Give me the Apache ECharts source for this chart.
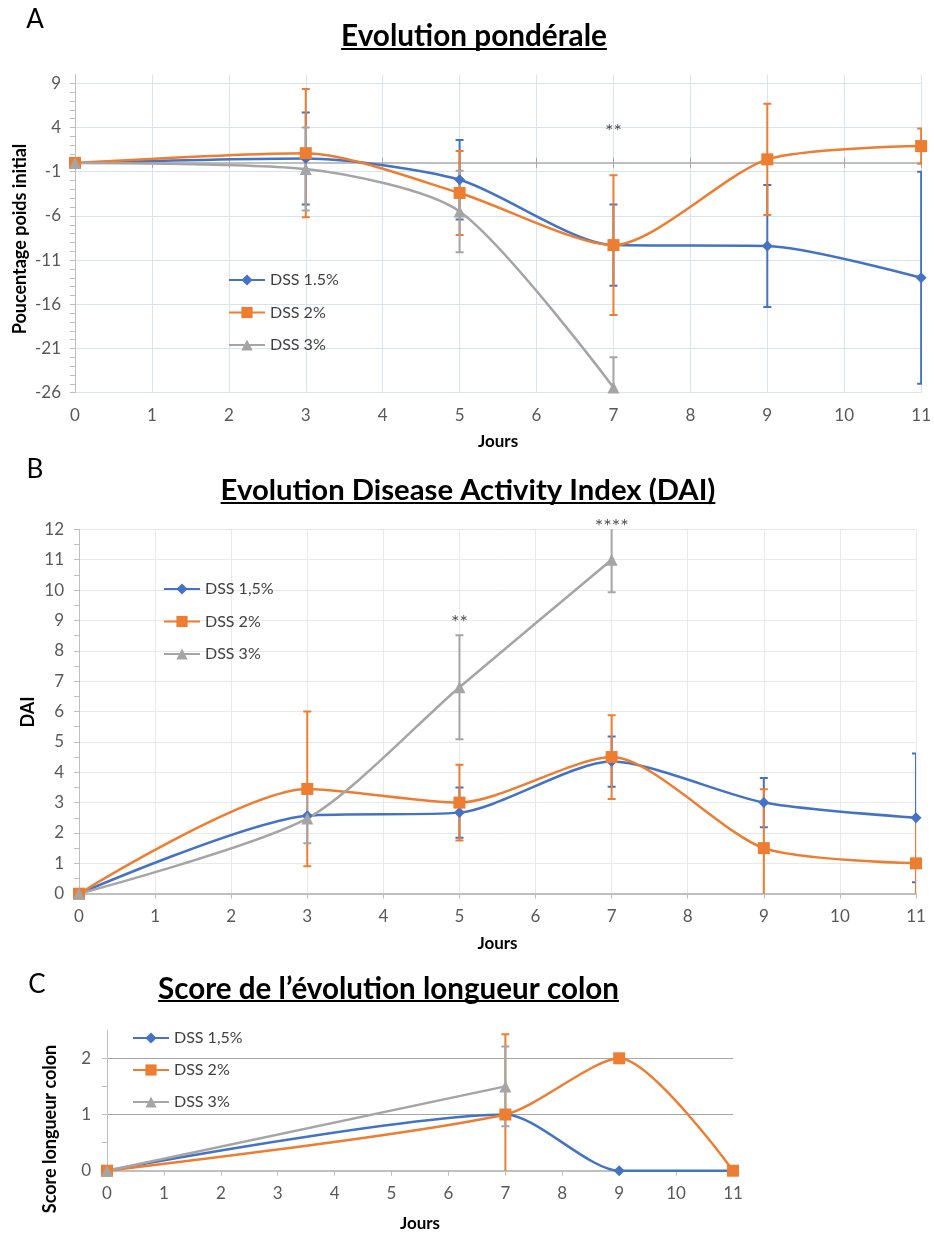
<!DOCTYPE html>
<html><head><meta charset="utf-8">
<script src="https://cdn.jsdelivr.net/npm/echarts@6/dist/echarts.min.js"></script>
<style>html,body{margin:0;padding:0;background:#fff}#c{width:934px;height:1234px}</style>
</head><body><div id="c"></div>
<script>
// ---------- DATA ----------
// Panel A : Evolution pondérale (% poids initial)
const daysA = [0, 3, 5, 7, 9, 11];
const daysA3 = [0, 3, 5, 7];
const weight15 = [0, 0.5, -1.9, -9.3, -9.4, -13.0];
const weight15Err = [null, 5.2, 4.5, 4.6, 6.9, 12.0];
const weight2 = [0, 1.1, -3.4, -9.3, 0.4, 1.9];
const weight2Err = [null, 7.25, 4.75, 7.9, 6.3, 2.0];
const weight3 = [0, -0.7, -5.5, -25.4];
const weight3Err = [null, 4.7, 4.6, 3.4];
const starsA = [[7, 4.1, '**']];
const namesA = ['DSS 1.5%', 'DSS 2%', 'DSS 3%'];

// Panel B : DAI
const daysB = [0, 3, 5, 7, 9, 11];
const daysB3 = [0, 3, 5, 7];
const dai15 = [0, 2.57, 2.67, 4.35, 3.0, 2.5];
const dai15Err = [null, null, 0.83, 0.83, 0.81, 2.12];
const dai2 = [0, 3.45, 3.0, 4.5, 1.5, 1.0];
const dai2Err = [null, 2.55, 1.25, 1.38, 1.94, 1.5];
const dai3 = [0, 2.48, 6.8, 11.0];
const dai3Err = [null, 0.82, 1.71, 1.07];
const starsB = [[5, 9.1, '**'], [7, 12.27, '****']];
const namesB = ['DSS 1,5%', 'DSS 2%', 'DSS 3%'];

// Panel C : Score longueur colon
const daysC = [0, 7, 9, 11];
const daysC3 = [0, 7];
const colon15 = [0, 1, 0, 0];
const colon15Err = [null, null, null, null];
const colon2 = [0, 1, 2, 0];
const colon2Err = [null, 1.43, null, null];
const colon3 = [0, 1.5];
const colon3Err = [null, 0.71];

const titles = ['Evolution pondérale', 'Evolution Disease Activity Index (DAI)', 'Score de l\u2019évolution longueur colon'];
const letters = ['A', 'B', 'C'];
const yNames = ['Poucentage poids initial', 'DAI', 'Score longueur colon'];
const xName = 'Jours';

// ---------- STYLE ----------
const FONT = 'Lato';
const BLUE = '#4472C4', ORANGE = '#ED7D31', GRAY = '#A5A5A5';
const TXT = '#595959';
const AXC = '#bfbfbf';
const SMOOTH = 0.25;

const chart = echarts.init(document.getElementById('c'), null, {renderer: 'canvas'});

function pairs(x, y) { return x.map((d, i) => [d, y[i]]); }
function errData(x, y, e) {
  const out = [];
  x.forEach((d, i) => { if (e[i] != null) out.push([d, y[i], e[i]]); });
  return out;
}
function lineSeries(name, x, y, color, symbol, size, gi, z) {
  return {
    type: 'line', name, xAxisIndex: gi.x, yAxisIndex: gi.y, data: pairs(x, y),
    smooth: SMOOTH, symbol, symbolSize: size, showSymbol: true,
    lineStyle: {color, width: 2.5}, itemStyle: {color}, z: z, clip: true
  };
}
function errSeries(id, x, y, e, color, gi, z) {
  return {
    type: 'custom', name: id, xAxisIndex: gi.x, yAxisIndex: gi.y, data: errData(x, y, e),
    encode: {x: 0, y: 1}, clip: true, z: z, silent: true,
    renderItem(params, api) {
      const cx = api.value(0), cy = api.value(1), ev = api.value(2);
      const t = api.coord([cx, cy + ev]), b = api.coord([cx, cy - ev]);
      const w = 4, st = {stroke: color, lineWidth: 2};
      return {type: 'group', children: [
        {type: 'line', shape: {x1: t[0], y1: t[1], x2: b[0], y2: b[1]}, style: st},
        {type: 'line', shape: {x1: t[0] - w, y1: t[1], x2: t[0] + w, y2: t[1]}, style: st},
        {type: 'line', shape: {x1: b[0] - w, y1: b[1], x2: b[0] + w, y2: b[1]}, style: st}
      ]};
    }
  };
}
function starSeries(data, gi) {
  return {
    type: 'scatter', xAxisIndex: gi.x, yAxisIndex: gi.y, data, clip: false, silent: true,
    symbol: 'circle', symbolSize: 1, itemStyle: {color: 'rgba(0,0,0,0)'},
    label: {show: true, position: 'inside', offset: [0, 5], formatter: p => p.value[2], color: '#262626', fontSize: 20, fontFamily: FONT},
    z: 10
  };
}
const lbl = (m) => ({fontSize: 17, color: TXT, fontFamily: FONT, margin: m});
const nameStyle = {fontSize: 17, fontWeight: 'bold', color: '#000', fontFamily: FONT};
function range(a, b, s) { const r = []; for (let v = a; v <= b + 1e-9; v += s) r.push(+v.toFixed(3)); return r; }
function tickAxis(gridIndex, min, max, ticks) {
  return {gridIndex, type: 'value', min, max, position: 'left',
    axisLine: {show: true, onZero: false, lineStyle: {color: AXC}},
    axisTick: {show: true, length: 5, customValues: ticks, lineStyle: {color: AXC}},
    axisLabel: {show: false}, splitLine: {show: false}};
}

const gA = {x: 0, y: 0}, gB = {x: 3, y: 1}, gC = {x: 4, y: 2};

const option = {
  animation: false,
  backgroundColor: '#fff',
  textStyle: {fontFamily: FONT},
  grid: [
    {left: 75, top: 74.5, width: 849, height: 318.2},
    {left: 79, top: 529.3, width: 837, height: 364.4},
    {left: 107, top: 1030.2, width: 626, height: 140.5}
  ],
  xAxis: [
    {gridIndex: 0, type: 'value', min: 0, max: 11, interval: 1, position: 'bottom',
     axisLine: {show: false, onZero: false}, axisTick: {show: false}, axisLabel: lbl(14),
     splitLine: {show: true, lineStyle: {color: '#dae3f3'}},
     name: xName, nameLocation: 'middle', nameGap: 40, nameTextStyle: nameStyle},
    {gridIndex: 0, type: 'value', min: 0, max: 11, interval: 1, position: 'bottom',
     axisLine: {show: true, onZero: true, lineStyle: {color: AXC, width: 2}},
     axisTick: {show: true, length: 5, lineStyle: {color: '#a6a6a6'}},
     axisLabel: {show: false}, splitLine: {show: false}},
    {gridIndex: 0, type: 'value', min: 0, max: 11, interval: 1, position: 'bottom',
     axisLine: {show: false, onZero: true},
     axisTick: {show: true, inside: true, length: 5, lineStyle: {color: '#a6a6a6'}},
     axisLabel: {show: false}, splitLine: {show: false}},
    {gridIndex: 1, type: 'value', min: 0, max: 11, interval: 1, position: 'bottom',
     axisLine: {show: true, onZero: false, lineStyle: {color: AXC, width: 2}},
     axisTick: {show: true, length: 5, lineStyle: {color: AXC}}, axisLabel: lbl(14),
     splitLine: {show: true, lineStyle: {color: '#e9e9e9'}},
     name: xName, nameLocation: 'middle', nameGap: 41, nameTextStyle: nameStyle},
    {gridIndex: 2, type: 'value', min: 0, max: 11, interval: 1, position: 'bottom',
     axisLine: {show: true, onZero: false, lineStyle: {color: AXC, width: 2}},
     axisTick: {show: true, length: 5, lineStyle: {color: AXC}}, axisLabel: lbl(14),
     splitLine: {show: false},
     name: xName, nameLocation: 'middle', nameGap: 44, nameTextStyle: nameStyle}
  ],
  yAxis: [
    {gridIndex: 0, type: 'value', min: -26, max: 10, interval: 5, position: 'left',
     axisLine: {show: false, onZero: false}, axisTick: {show: false},
     axisLabel: Object.assign(lbl(14), {showMaxLabel: false}),
     splitLine: {show: true, showMaxLine: false, lineStyle: {color: '#dae3f3'}}},
    {gridIndex: 1, type: 'value', min: 0, max: 12, interval: 1, position: 'left',
     axisLine: {show: false, onZero: false}, axisTick: {show: false},
     axisLabel: lbl(15),
     splitLine: {show: true, lineStyle: {color: '#e9e9e9'}}},
    {gridIndex: 2, type: 'value', min: 0, max: 2.5, interval: 1, position: 'left',
     axisLine: {show: false, onZero: false}, axisTick: {show: false},
     axisLabel: Object.assign(lbl(16), {showMaxLabel: false}),
     splitLine: {show: true, showMaxLine: false, showMinLine: false, lineStyle: {color: '#a6a6a6'}}},
    tickAxis(0, -26, 10, range(-26, 9, 1)),
    tickAxis(1, 0, 12, range(0, 12, 0.5)),
    tickAxis(2, 0, 2.5, range(0, 2, 0.5))
  ],
  legend: [
    {data: namesA, orient: 'vertical', left: 228, top: 272, itemWidth: 36, itemHeight: 14, itemGap: 16.5, padding: 0,
     textStyle: {fontSize: 16, color: '#404040', fontFamily: FONT}, selectedMode: false},
    {data: namesB, orient: 'vertical', left: 163, top: 581, itemWidth: 36, itemHeight: 14, itemGap: 16.5, padding: 0,
     textStyle: {fontSize: 16, color: '#404040', fontFamily: FONT}, selectedMode: false},
    {data: namesB, orient: 'vertical', left: 132, top: 1030, itemWidth: 36, itemHeight: 14, itemGap: 16, padding: 0,
     textStyle: {fontSize: 16, color: '#404040', fontFamily: FONT}, selectedMode: false}
  ],
  series: [
    errSeries('eA1', daysA, weight15, weight15Err, BLUE, gA, 2),
    errSeries('eA2', daysA, weight2, weight2Err, ORANGE, gA, 2),
    errSeries('eA3', daysA3, weight3, weight3Err, GRAY, gA, 2),
    lineSeries(namesA[0], daysA, weight15, BLUE, 'diamond', 11, gA, 3),
    lineSeries(namesA[1], daysA, weight2, ORANGE, 'rect', 12, gA, 3),
    lineSeries(namesA[2], daysA3, weight3, GRAY, 'triangle', 12, gA, 3),
    starSeries(starsA, gA),

    errSeries('eB1', daysB, dai15, dai15Err, BLUE, gB, 2),
    errSeries('eB2', daysB, dai2, dai2Err, ORANGE, gB, 2),
    errSeries('eB3', daysB3, dai3, dai3Err, GRAY, gB, 2),
    lineSeries(namesB[0], daysB, dai15, BLUE, 'diamond', 11, gB, 3),
    lineSeries(namesB[1], daysB, dai2, ORANGE, 'rect', 12, gB, 3),
    lineSeries(namesB[2], daysB3, dai3, GRAY, 'triangle', 12, gB, 3),
    starSeries(starsB, gB),

    errSeries('eC1', daysC, colon15, colon15Err, BLUE, gC, 2),
    errSeries('eC2', daysC, colon2, colon2Err, ORANGE, gC, 2),
    errSeries('eC3', daysC3, colon3, colon3Err, GRAY, gC, 2),
    lineSeries(namesB[0], daysC, colon15, BLUE, 'diamond', 11, gC, 3),
    lineSeries(namesB[1], daysC, colon2, ORANGE, 'rect', 12, gC, 3),
    lineSeries(namesB[2], daysC3, colon3, GRAY, 'triangle', 12, gC, 3)
  ]
};

// titles, letters, underlines, y-axis names
const ctx = document.createElement('canvas').getContext('2d');
function tw(text, font) { ctx.font = font; return ctx.measureText(text).width; }
const titleGeom = [
  {cx: 474, cy: 36, uy: 49, w: 266},
  {cx: 468, cy: 491, uy: 503, w: 495},
  {cx: 388.5, cy: 989, uy: 1001, w: 461}
];
const letterGeom = [[35, 20], [35, 470], [37, 985]];
const graphics = [];
titles.forEach((t, i) => {
  const g = titleGeom[i];
  const fs = 20 * g.w / tw(t, 'bold 20px ' + FONT);
  const font = 'bold ' + fs.toFixed(2) + 'px ' + FONT;
  const realW = tw(t, font);
  graphics.push({type: 'text', x: g.cx, y: g.cy, style: {text: t, font, fill: '#000', align: 'center', verticalAlign: 'middle'}});
  graphics.push({type: 'line', shape: {x1: g.cx - realW / 2, y1: g.uy, x2: g.cx + realW / 2, y2: g.uy}, style: {stroke: '#000', lineWidth: 2}});
});
letters.forEach((l, i) => {
  graphics.push({type: 'text', x: letterGeom[i][0], y: letterGeom[i][1], style: {text: l, font: '26px ' + FONT, fill: '#000', align: 'center', verticalAlign: 'middle'}});
});
const yNameSize = Math.min(18, 17 * 208 / tw(yNames[0], 'bold 17px ' + FONT));
const yNameGeom = [[20, 239], [28, 712], [50.5, 1129]];
yNames.forEach((n, i) => {
  graphics.push({type: 'text', x: yNameGeom[i][0], y: yNameGeom[i][1], rotation: Math.PI / 2,
    style: {text: n, font: 'bold ' + yNameSize.toFixed(2) + 'px ' + FONT, fill: '#000', align: 'center', verticalAlign: 'middle'}});
});
option.graphic = graphics;

chart.setOption(option);
</script>
</body></html>
